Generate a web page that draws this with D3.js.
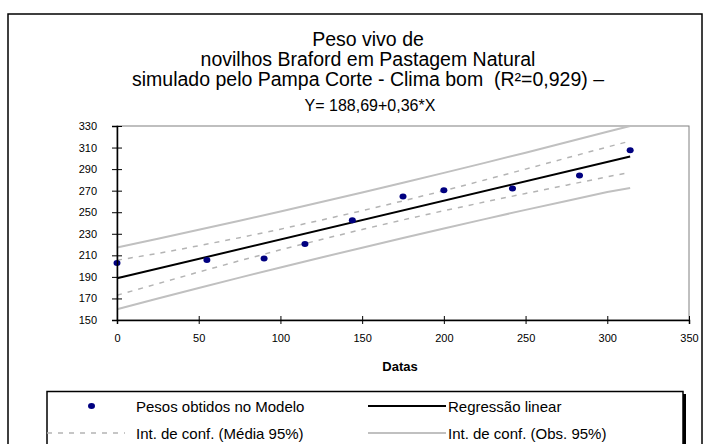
<!DOCTYPE html>
<html>
<head>
<meta charset="utf-8">
<script src="https://cdn.jsdelivr.net/npm/d3@7"></script>
<style>
  body { margin: 0; background: #fff; }
  svg { display: block; font-family: "Liberation Sans", Arial, sans-serif; }
  text { white-space: pre; }
</style>
</head>
<body>
<div id="chart"></div>
<script>
// pontos simulados (dia, peso vivo kg)
var dias = [0, 55, 90, 115, 144, 175, 200, 242, 283, 314];
var pesos = [203, 205.7, 207, 220.5, 242.5, 264.5, 270.5, 272, 284, 307.5];

// regressao linear Y = 188,69 + 0,36*X
var regX = [0, 314];
var regY = [188.7, 301.7];

// intervalos de confianca
var icX = [0, 25, 50, 75, 100, 125, 150, 175, 200, 225, 250, 275, 300, 314];
var icMediaSup = [205.5, 211.7, 218.9, 226.4, 234.3, 242.7, 251.4, 260.5, 270.0, 279.9, 290.0, 300.3, 310.5, 316.0];
var icMediaInf = [173.0, 183.7, 194.5, 205.0, 215.1, 224.7, 234.0, 242.9, 251.4, 259.5, 267.4, 275.1, 282.9, 287.0];
var icObsSup = [217.2, 225.4, 233.7, 242.1, 250.7, 259.4, 268.3, 277.3, 286.5, 295.8, 305.2, 314.9, 324.7, 330.0];
var icObsInf = [160.0, 170.0, 179.7, 189.3, 198.7, 208.0, 217.1, 226.1, 234.9, 243.6, 252.2, 260.5, 268.7, 272.5];

var xTicks = [0, 50, 100, 150, 200, 250, 300, 350];
var yTicks = [150, 170, 190, 210, 230, 250, 270, 290, 310, 330];

var titulo = ["Peso vivo de",
  "novilhos Braford em Pastagem Natural",
  "simulado pelo Pampa Corte - Clima bom  (R\u00b2=0,929) \u2013"];
var equacao = "Y= 188,69+0,36*X";

var width = 710, height = 444;

var svg = d3.select("#chart").append("svg")
  .attr("width", width)
  .attr("height", height);

// moldura externa
svg.append("rect")
  .attr("x", 8).attr("y", 14)
  .attr("width", 694).attr("height", 460)
  .attr("fill", "none")
  .attr("stroke", "#000")
  .attr("stroke-width", 1.5);

// titulo
svg.selectAll("text.titulo")
  .data(titulo)
  .enter()
  .append("text")
  .attr("class", "titulo")
  .attr("x", 368)
  .attr("y", function(d, i) { return 46 + i * 20; })
  .attr("text-anchor", "middle")
  .style("font-size", "19.5px")
  .text(function(d) { return d; });

svg.append("text")
  .attr("x", 370).attr("y", 111)
  .attr("text-anchor", "middle")
  .style("font-size", "16px")
  .text(equacao);

var x = d3.scaleLinear().domain([0, 350]).range([117, 689]);
var y = d3.scaleLinear().domain([150, 330]).range([320, 126]);

// borda da area de plotagem
svg.append("rect")
  .attr("x", x(0)).attr("y", y(330))
  .attr("width", x(350) - x(0)).attr("height", y(150) - y(330))
  .attr("fill", "none")
  .attr("stroke", "#808080")
  .attr("stroke-width", 1);

var linha = d3.line()
  .x(function(d) { return x(d[0]); })
  .y(function(d) { return y(d[1]); });

function pares(xs, ys) {
  return xs.map(function(v, i) { return [v, ys[i]]; });
}

// IC observacoes (cinza claro)
[icObsSup, icObsInf].forEach(function(serie) {
  svg.append("path")
    .attr("d", linha(pares(icX, serie)))
    .attr("fill", "none")
    .attr("stroke", "#c0c0c0")
    .attr("stroke-width", 2);
});

// IC media (tracejado)
[icMediaSup, icMediaInf].forEach(function(serie) {
  svg.append("path")
    .attr("d", linha(pares(icX, serie)))
    .attr("fill", "none")
    .attr("stroke", "#b4b4b4")
    .attr("stroke-width", 1.5)
    .attr("stroke-dasharray", "5,6");
});

// regressao
svg.append("path")
  .attr("d", linha(pares(regX, regY)))
  .attr("fill", "none")
  .attr("stroke", "#000")
  .attr("stroke-width", 2);

// pontos
svg.selectAll("ellipse.ponto")
  .data(pares(dias, pesos))
  .enter()
  .append("ellipse")
  .attr("class", "ponto")
  .attr("cx", function(d) { return x(d[0]); })
  .attr("cy", function(d) { return y(d[1]); })
  .attr("rx", 3.5)
  .attr("ry", 3)
  .attr("fill", "#000080");

// eixos
var eixoX = svg.append("g")
  .attr("transform", "translate(0," + y(150) + ")")
  .call(d3.axisBottom(x).tickValues(xTicks).tickSize(4).tickPadding(10));
eixoX.selectAll(".tick line").attr("y1", -4).attr("y2", 4);

var eixoY = svg.append("g")
  .attr("transform", "translate(" + x(0) + ",0)")
  .call(d3.axisLeft(y).tickValues(yTicks).tickSize(5).tickPadding(15));
eixoY.selectAll(".tick line").attr("x1", -5).attr("x2", 5);

[eixoX, eixoY].forEach(function(g) {
  g.select(".domain").attr("stroke", "#000").attr("stroke-width", 1.5);
  g.selectAll(".tick line").attr("stroke", "#000");
  g.selectAll("text")
    .style("font-family", "'Liberation Sans', Arial, sans-serif")
    .style("font-size", "11px")
    .attr("fill", "#000");
});

svg.append("text")
  .attr("x", 400).attr("y", 371)
  .attr("text-anchor", "middle")
  .style("font-size", "13px")
  .style("font-weight", "bold")
  .text("Datas");

// legenda
var leg = svg.append("g");
leg.append("rect")
  .attr("x", 50).attr("y", 394)
  .attr("width", 636).attr("height", 80)
  .attr("fill", "#000");
leg.append("rect")
  .attr("x", 47).attr("y", 391.5)
  .attr("width", 636).attr("height", 80)
  .attr("fill", "#fff")
  .attr("stroke", "#000")
  .attr("stroke-width", 1.5);

var itens = [
  {nome: "Pesos obtidos no Modelo", col: 0, lin: 0, tipo: "ponto"},
  {nome: "Regressão linear", col: 1, lin: 0, tipo: "reg"},
  {nome: "Int. de conf. (Média 95%)", col: 0, lin: 1, tipo: "media"},
  {nome: "Int. de conf. (Obs. 95%)", col: 1, lin: 1, tipo: "obs"}
];

itens.forEach(function(it) {
  var cy = 406 + it.lin * 27;
  var x0 = it.col === 0 ? 47 : 368;
  var x1 = it.col === 0 ? 125 : 446;
  if (it.tipo === "ponto") {
    leg.append("ellipse").attr("cx", 91.5).attr("cy", cy)
      .attr("rx", 3.5).attr("ry", 3).attr("fill", "#000080");
  } else {
    var l = leg.append("line")
      .attr("x1", x0).attr("x2", x1).attr("y1", cy).attr("y2", cy);
    if (it.tipo === "reg") l.attr("stroke", "#000").attr("stroke-width", 2);
    if (it.tipo === "obs") l.attr("stroke", "#c0c0c0").attr("stroke-width", 2);
    if (it.tipo === "media") l.attr("stroke", "#b4b4b4").attr("stroke-width", 1.5)
      .attr("stroke-dasharray", "5,6");
  }
  leg.append("text")
    .attr("x", it.col === 0 ? 136 : 448)
    .attr("y", cy + 5.5)
    .style("font-size", "15px")
    .text(it.nome);
});
</script>
</body>
</html>
